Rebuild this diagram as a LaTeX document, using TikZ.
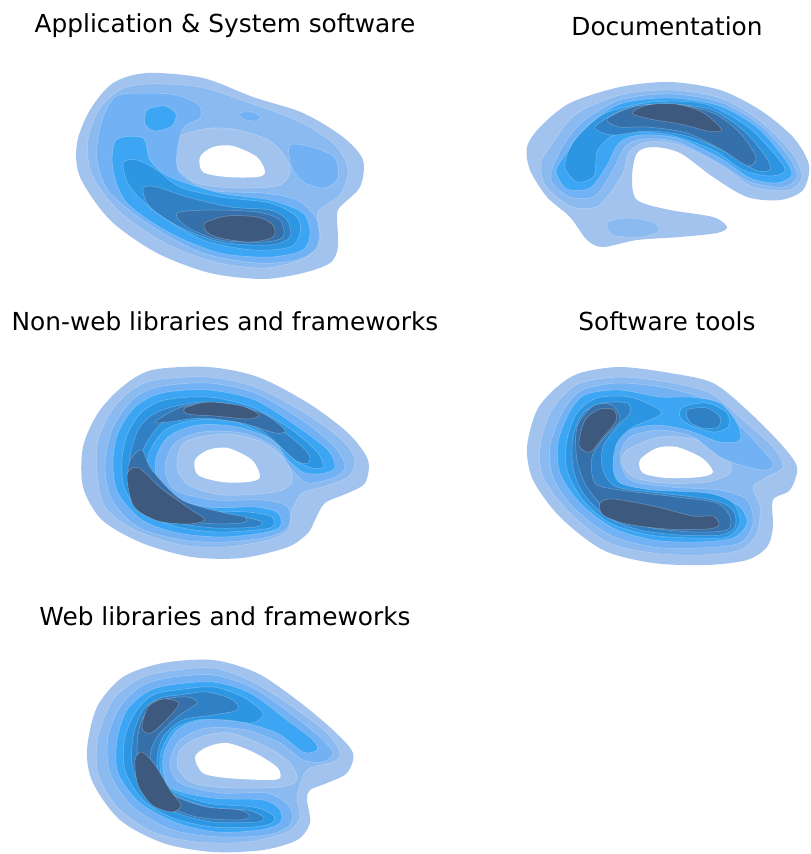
\documentclass[tikz,border=0pt]{standalone}
\usepackage{fontspec}
\setmainfont{DejaVu Sans}

% contour level colours, light to dark
\definecolor{cA}{HTML}{A2C3EE}
\definecolor{cB}{HTML}{8BBAF0}
\definecolor{cC}{HTML}{72B1F3}
\definecolor{cD}{HTML}{3DA6F4}
\definecolor{cE}{HTML}{2C96E3}
\definecolor{cF}{HTML}{2F80C5}
\definecolor{cG}{HTML}{3670AA}
\definecolor{cH}{HTML}{3D5A7E}

\tikzset{
  lvA/.style={fill=cA},
  lvB/.style={fill=cB, draw=white, draw opacity=0.3, line width=0.5pt},
  lvC/.style={fill=cC, draw=white, draw opacity=0.3, line width=0.5pt},
  lvD/.style={fill=cD, draw=white, draw opacity=0.3, line width=0.5pt},
  lvE/.style={fill=cE, draw=white, draw opacity=0.3, line width=0.5pt},
  lvF/.style={fill=cF, draw=white, draw opacity=0.3, line width=0.5pt},
  lvG/.style={fill=cG, draw=white, draw opacity=0.3, line width=0.5pt},
  lvH/.style={fill=cH, draw=white, draw opacity=0.3, line width=0.5pt},
  ring/.style={fill=cA, draw=white, draw opacity=0.3, line width=0.5pt},
  hole/.style={fill=white},
  paneltitle/.style={font=\fontsize{24.8}{30}\selectfont, inner sep=0pt}
}

\begin{document}
\begin{tikzpicture}[x=1pt, y=-1pt]

    % page frame in pixels of the reference
    \useasboundingbox (0,0) rectangle (811,854);

    % titles
    \node[paneltitle] (tapp) at (225,26) {Application \& System software};
    \node[paneltitle] (tdoc) at (667,26) {Documentation};
    \node[paneltitle] (tnon) at (225,321) {Non-web libraries and frameworks};
    \node[paneltitle] (ttool) at (667,321) {Software tools};
    \node[paneltitle] (tweb) at (225,616) {Web libraries and frameworks};

    % --- Application & System software ---
    \fill[lvA] plot[smooth cycle] coordinates {(147,73) (203,78) (253,97) (303,113) (343,137) (363,160) (360,187) (340,207) (337,217) (338,247) (330,263) (303,273) (263,279) (210,273) (157,253) (110,220) (80,177) (77,143) (90,110) (113,83)};
    \filldraw[lvB] plot[smooth cycle] coordinates {(150,84) (200,87) (250,103) (300,122) (335,145) (348,170) (340,195) (318,212) (320,240) (305,258) (265,268) (215,262) (165,243) (120,212) (92,175) (88,140) (100,108) (122,89)};
    \filldraw[ring] plot[smooth cycle] coordinates {(182,135) (212,128) (243,131) (273,143) (290,167) (280,185) (237,188) (197,183) (177,167) (175,148)};
    \filldraw[lvC] plot[smooth cycle] coordinates {(123,94) (170,94) (198,104) (200,118) (182,130) (178,170) (210,190) (263,193) (297,200) (317,220) (317,247) (297,260) (257,263) (203,253) (153,227) (110,193) (97,160) (100,127) (110,103)};
    \filldraw[lvC] plot[smooth cycle] coordinates {(290,145) (315,148) (335,158) (338,178) (325,188) (305,183) (292,168)};
    \filldraw[lvC] plot[smooth cycle] coordinates {(240,113) (252,112) (261,117) (255,121) (243,119)};
    \filldraw[lvD] plot[smooth cycle] coordinates {(147,110) (165,106) (176,114) (172,126) (155,131) (145,124)};
    \filldraw[lvD] plot[smooth cycle] coordinates {(116,140) (143,138) (150,160) (170,177) (220,193) (270,200) (303,213) (310,233) (303,250) (270,257) (220,253) (170,233) (127,203) (113,170)};
    \filldraw[lvE] plot[smooth cycle] coordinates {(123,163) (137,160) (157,170) (180,187) (220,197) (270,203) (297,217) (300,233) (290,247) (253,250) (203,240) (157,213) (130,187)};
    \filldraw[lvF] plot[smooth cycle] coordinates {(143,188) (157,187) (187,197) (230,207) (270,210) (287,220) (290,237) (270,245) (220,242) (180,227) (150,207)};
    \filldraw[lvG] plot[smooth cycle] coordinates {(177,213) (210,210) (257,212) (280,220) (283,237) (263,242) (220,240) (187,227)};
    \filldraw[lvH] plot[smooth cycle] coordinates {(205,223) (227,216) (257,217) (273,225) (273,237) (250,242) (220,238) (207,232)};
    \fill[hole] plot[smooth cycle] coordinates {(200,157) (213,147) (233,146) (257,157) (265,172) (257,177) (227,177) (203,172)};

    % --- Documentation ---
    \fill[lvA] plot[smooth cycle] coordinates {(540,127) (570,103) (620,87) (670,82) (720,90) (760,110) (793,137) (809,165) (803,190) (780,200) (747,197) (713,177) (680,153) (653,147) (637,153) (632,177) (637,200) (670,210) (713,217) (727,227) (717,233) (680,237) (637,240) (603,247) (587,240) (570,217) (547,197) (530,170) (527,147)};
    \filldraw[lvB] plot[smooth cycle] coordinates {(608,222) (630,218) (655,223) (658,232) (640,237) (612,235)};
    \filldraw[lvB] plot[smooth cycle] coordinates {(550,147) (575,115) (620,95) (670,90) (720,98) (760,121) (792,153) (802,177) (789,190) (753,187) (720,165) (680,145) (647,142) (629,152) (622,175) (598,206) (570,206) (545,185) (541,163)};
    \filldraw[lvC] plot[smooth cycle] coordinates {(558,155) (580,124) (620,100) (670,94) (720,102) (760,125) (789,157) (797,177) (783,187) (750,182) (717,162) (677,142) (643,139) (625,147) (613,170) (595,196) (570,197) (551,180)};
    \filldraw[lvD] plot[smooth cycle] coordinates {(563,158) (584,129) (620,104) (670,98) (720,106) (758,128) (784,158) (792,175) (777,183) (750,178) (720,158) (677,138) (640,135) (619,143) (606,167) (590,188) (567,189) (556,172)};
    \filldraw[lvE] plot[smooth cycle] coordinates {(580,134) (606,113) (653,102) (705,104) (748,127) (777,157) (785,171) (770,176) (743,170) (713,150) (670,135) (630,132) (610,137) (597,152) (594,176) (577,182) (565,168) (569,150)};
    \filldraw[lvF] plot[smooth cycle] coordinates {(595,127) (627,108) (670,104) (712,110) (744,131) (766,157) (770,170) (755,170) (728,153) (687,136) (647,131) (613,135)};
    \filldraw[lvG] plot[smooth cycle] coordinates {(607,119) (637,106) (680,105) (715,114) (740,133) (756,157) (748,166) (722,150) (687,133) (647,127) (619,127)};
    \filldraw[lvH] plot[smooth cycle] coordinates {(632,113) (648,105) (675,104) (702,112) (722,130) (708,131) (680,124) (650,119)};

    % --- Non-web libraries and frameworks ---
    \fill[lvA] plot[smooth cycle] coordinates {(152,370) (208,367) (258,377) (308,403) (348,433) (368,460) (365,483) (348,493) (325,503) (315,520) (308,533) (288,547) (242,558) (192,557) (142,543) (102,520) (83,487) (83,447) (98,413) (122,387)};
    \filldraw[lvB] plot[smooth cycle] coordinates {(155,380) (208,377) (255,387) (305,413) (342,440) (355,460) (348,477) (322,487) (302,493) (292,510) (288,530) (268,540) (225,547) (182,545) (135,530) (105,507) (97,473) (98,440) (112,410) (132,390)};
    \filldraw[ring] plot[smooth cycle] coordinates {(185,442) (225,434) (262,442) (286,461) (292,482) (275,492) (225,495) (190,486) (177,467)};
    \filldraw[lvC] plot[smooth cycle] coordinates {(158,387) (208,383) (255,393) (302,420) (335,447) (345,467) (335,477) (308,483) (292,470) (275,447) (242,433) (202,432) (175,443) (165,467) (175,490) (215,500) (262,500) (288,507) (288,527) (268,537) (225,542) (182,540) (138,527) (112,500) (105,467) (112,430) (132,400)};
    \filldraw[lvD] plot[smooth cycle] coordinates {(162,393) (208,390) (255,400) (298,427) (328,450) (335,467) (325,473) (305,473) (288,460) (272,440) (238,427) (198,425) (168,437) (155,463) (165,493) (208,507) (255,507) (278,513) (280,527) (262,533) (222,537) (178,533) (142,520) (118,493) (113,463) (118,433) (135,407)};
    \filldraw[lvE] plot[smooth cycle] coordinates {(165,400) (208,397) (252,407) (292,430) (318,453) (323,467) (312,468) (295,460) (268,437) (235,422) (195,420) (165,430) (148,457) (155,490) (198,510) (248,512) (272,517) (272,527) (255,530) (218,532) (178,527) (145,513) (125,490) (122,460) (128,433) (142,412)};
    \filldraw[lvF] plot[smooth cycle] coordinates {(172,407) (208,402) (248,412) (285,433) (308,453) (308,463) (295,460) (265,433) (232,417) (192,413) (162,423) (142,453) (145,487) (185,513) (242,517) (262,522) (255,527) (215,528) (175,522) (145,507) (132,483) (130,457) (138,430) (152,415)};
    \filldraw[lvG] plot[smooth cycle] coordinates {(155,422) (182,407) (222,403) (262,413) (285,430) (275,433) (242,423) (202,418) (168,422)};
    \filldraw[lvG] plot[smooth cycle] coordinates {(132,457) (142,450) (152,470) (182,500) (225,513) (245,517) (242,523) (202,523) (162,513) (135,490) (128,470)};
    \filldraw[lvH] plot[smooth cycle] coordinates {(185,408) (208,402) (242,406) (259,415) (248,419) (215,416) (188,414)};
    \filldraw[lvH] plot[smooth cycle] coordinates {(128,472) (139,468) (162,489) (190,509) (205,520) (188,524) (158,521) (135,508) (128,487)};
    \fill[hole] plot[smooth cycle] coordinates {(195,460) (208,450) (228,448) (252,460) (260,477) (248,482) (222,482) (198,475)};

    % --- Software tools ---
    \fill[lvA] plot[smooth cycle] coordinates {(580,373) (620,367) (670,373) (713,383) (747,410) (780,443) (797,467) (790,490) (773,500) (773,527) (767,547) (747,560) (707,565) (653,563) (603,550) (560,517) (533,480) (527,447) (537,410) (557,387)};
    \filldraw[lvB] plot[smooth cycle] coordinates {(583,382) (620,377) (667,382) (710,393) (743,420) (773,447) (783,467) (767,477) (753,487) (760,507) (757,533) (740,550) (700,555) (653,553) (607,542) (567,510) (543,477) (540,447) (550,413) (567,392)};
    \filldraw[ring] plot[smooth cycle] coordinates {(627,450) (660,437) (697,440) (727,457) (730,473) (707,482) (663,483) (633,477) (622,463)};
    \filldraw[lvC] plot[smooth cycle] coordinates {(587,388) (620,383) (667,388) (707,400) (737,423) (760,447) (773,463) (767,470) (747,467) (720,457) (693,437) (660,430) (630,437) (620,457) (630,480) (670,487) (720,490) (747,500) (753,523) (740,543) (700,548) (653,547) (610,535) (573,507) (553,477) (550,447) (560,417) (573,397)};
    \filldraw[lvD] plot[smooth cycle] coordinates {(590,393) (620,390) (660,397) (690,397) (720,403) (737,423) (740,440) (720,442) (687,430) (657,425) (630,430) (613,447) (613,470) (627,487) (670,493) (717,497) (740,507) (747,523) (733,538) (697,542) (653,540) (613,528) (580,503) (560,473) (558,443) (567,417) (578,400)};
    \filldraw[lvE] plot[smooth cycle] coordinates {(683,407) (707,403) (727,413) (728,427) (713,432) (690,425) (680,417)};
    \filldraw[lvE] plot[smooth cycle] coordinates {(597,398) (630,397) (660,410) (657,417) (633,427) (617,443) (613,467) (620,483) (653,490) (707,493) (733,503) (740,523) (727,537) (693,538) (650,535) (610,523) (583,500) (567,470) (567,440) (577,413)};
    \filldraw[lvF] plot[smooth cycle] coordinates {(687,410) (707,408) (720,417) (718,427) (703,428) (690,422)};
    \filldraw[lvF] plot[smooth cycle] coordinates {(603,403) (627,403) (630,413) (617,427) (603,447) (603,470) (617,487) (660,493) (713,500) (733,510) (735,527) (720,535) (680,535) (640,530) (607,517) (583,493) (573,467) (573,437) (583,413)};
    \filldraw[lvG] plot[smooth cycle] coordinates {(577,427) (593,406) (612,405) (620,420) (605,437) (592,457) (595,483) (620,490) (677,497) (717,503) (730,517) (727,530) (693,532) (647,527) (610,513) (587,487) (577,460)};
    \filldraw[lvH] plot[smooth cycle] coordinates {(579,445) (585,420) (600,409) (614,410) (616,421) (603,437) (590,452)};
    \filldraw[lvH] plot[smooth cycle] coordinates {(600,503) (613,499) (653,506) (693,516) (713,516) (719,525) (707,529) (667,529) (627,524) (603,515)};
    \fill[hole] plot[smooth cycle] coordinates {(640,460) (657,448) (677,447) (702,458) (713,472) (700,477) (667,478) (643,473)};

    % --- Web libraries and frameworks ---
    \fill[lvA] plot[smooth cycle] coordinates {(163,663) (213,660) (257,673) (297,700) (333,730) (353,753) (347,773) (327,783) (310,790) (307,800) (310,823) (297,840) (263,850) (213,852) (163,843) (120,820) (93,783) (87,750) (97,707) (123,677)};
    \filldraw[lvB] plot[smooth cycle] coordinates {(163,672) (213,668) (253,682) (293,707) (327,733) (340,753) (333,762) (307,770) (297,797) (300,817) (287,832) (247,842) (197,842) (153,832) (117,807) (98,773) (98,737) (113,700) (137,680)};
    \filldraw[ring] plot[smooth cycle] coordinates {(180,750) (200,737) (230,733) (267,747) (290,763) (297,780) (280,787) (230,788) (193,783) (178,768)};
    \filldraw[lvC] plot[smooth cycle] coordinates {(167,678) (213,675) (253,688) (290,713) (320,737) (333,753) (323,762) (303,760) (280,743) (247,730) (207,728) (180,740) (170,763) (180,783) (220,793) (267,793) (290,807) (290,825) (267,835) (220,837) (173,830) (133,807) (110,773) (108,737) (120,707) (140,687)};
    \filldraw[lvD] plot[smooth cycle] coordinates {(170,685) (213,682) (250,693) (287,720) (313,740) (317,750) (303,752) (277,733) (240,722) (203,720) (177,730) (163,757) (170,787) (213,798) (263,800) (280,810) (280,823) (260,830) (217,832) (177,823) (140,803) (118,773) (117,740) (127,710) (147,692)};
    \filldraw[lvE] plot[smooth cycle] coordinates {(177,690) (213,687) (243,697) (263,713) (253,723) (227,720) (197,720) (173,730) (160,757) (167,787) (207,803) (253,807) (273,815) (272,823) (253,827) (213,827) (173,818) (143,800) (125,770) (125,737) (137,710) (153,695)};
    \filldraw[lvF] plot[smooth cycle] coordinates {(180,695) (207,692) (233,700) (237,710) (213,715) (183,720) (163,737) (157,763) (167,790) (207,807) (247,810) (263,817) (257,822) (213,822) (177,813) (150,797) (133,770) (133,737) (143,710) (160,698)};
    \filldraw[lvG] plot[smooth cycle] coordinates {(143,717) (163,700) (187,697) (197,703) (177,717) (157,737) (150,757) (157,780) (177,797) (207,807) (240,810) (250,817) (237,820) (197,817) (163,803) (143,777) (137,747)};
    \filldraw[lvH] plot[smooth cycle] coordinates {(142,728) (148,707) (163,699) (179,703) (168,718) (151,733)};
    \filldraw[lvH] plot[smooth cycle] coordinates {(135,760) (142,752) (155,765) (170,790) (181,805) (172,812) (152,805) (138,785)};
    \fill[hole] plot[smooth cycle] coordinates {(195,757) (207,747) (227,743) (253,752) (277,767) (280,778) (267,780) (227,778) (203,773)};

\end{tikzpicture}
\end{document}
